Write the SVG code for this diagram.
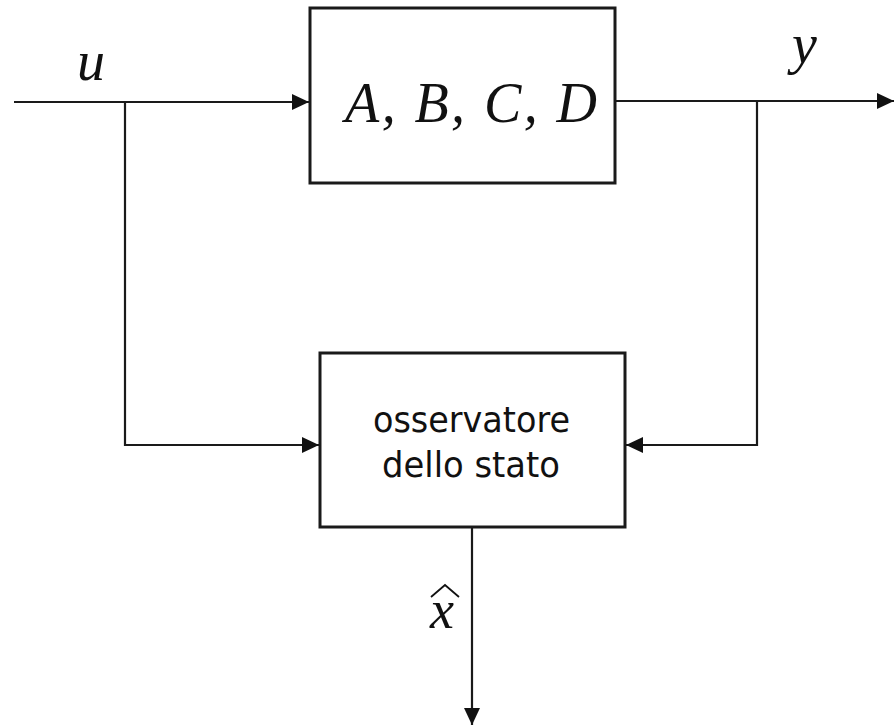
<svg xmlns="http://www.w3.org/2000/svg" width="894" height="727" viewBox="0 0 894 727">
  <style>
    .box { fill: #ffffff; stroke: #1a1a1a; stroke-width: 3; }
    .wire { fill: none; stroke: #1a1a1a; stroke-width: 2.2; }
    .math { font-family: "Liberation Serif", "DejaVu Serif", serif; font-style: italic; fill: #111111; }
    .label { font-family: "DejaVu Sans", Verdana, sans-serif; font-size: 35px; fill: #111111; }
  </style>
  <defs>
    <marker id="arrow" markerUnits="userSpaceOnUse" markerWidth="18" markerHeight="16" refX="17" refY="8" orient="auto">
      <path d="M0,0 L17,8 L0,16 Z" fill="#111111"/>
    </marker>
  </defs>
  <rect width="894" height="727" fill="#ffffff"/>

  <!-- connectors -->
  <g id="connectors">
    <!-- input u into plant -->
    <path class="wire" d="M14,102 L309,102" marker-end="url(#arrow)"/>
    <!-- u branch down to observer -->
    <path class="wire" d="M125,102 L125,445 L319,445" marker-end="url(#arrow)"/>
    <!-- plant output y -->
    <path class="wire" d="M615,101 L894,101" marker-end="url(#arrow)"/>
    <!-- y branch down to observer -->
    <path class="wire" d="M757,101 L757,445 L626,445" marker-end="url(#arrow)"/>
    <!-- observer estimate out -->
    <path class="wire" d="M472,527 L472,725" marker-end="url(#arrow)"/>
  </g>

  <!-- plant -->
  <g id="plant">
    <rect class="box" x="310" y="8" width="305" height="175"/>
    <text class="math" x="345" y="122" font-size="56" textLength="252" lengthAdjust="spacing">A, B, C, D</text>
  </g>

  <!-- observer -->
  <g id="observer">
    <rect class="box" x="320" y="353" width="305" height="174"/>
    <text class="label" x="373" y="432" textLength="197" lengthAdjust="spacingAndGlyphs">osservatore</text>
    <text class="label" x="382" y="477" textLength="178" lengthAdjust="spacingAndGlyphs">dello stato</text>
  </g>

  <!-- signal labels -->
  <g id="labels">
    <text class="math" x="77" y="80" font-size="56">u</text>
    <text class="math" x="792" y="63" font-size="56">y</text>
    <text class="math" x="430" y="628" font-size="54">x</text>
    <path d="M431,597 L445,585 L459,597" fill="none" stroke="#111111" stroke-width="1.8"/>
  </g>
</svg>
